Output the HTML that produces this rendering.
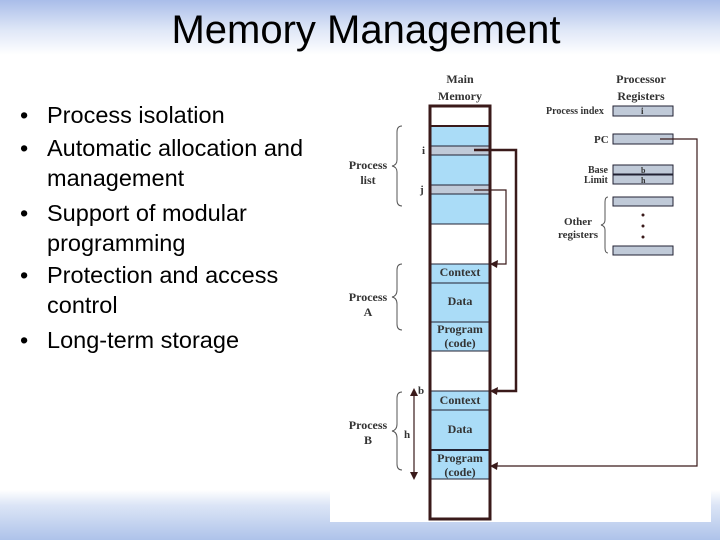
<!DOCTYPE html>
<html><head><style>
body{margin:0;width:720px;height:540px;overflow:hidden;font-family:"Liberation Sans",sans-serif;}
#bg{position:absolute;left:0;top:0;width:720px;height:540px;background:linear-gradient(to bottom,#a9bde9 0px,#dfe7f7 30px,#fff 55px,#fff 490px,#dce5f6 505px,#aec3ea 540px);}
h1{position:absolute;left:0;width:732px;top:8px;margin:0;text-align:center;font-weight:normal;font-size:40px;color:#000;}
.b{position:absolute;left:20px;font-size:23.5px;line-height:30px;color:#000;}
.b span{position:absolute;left:0}
.b div{padding-left:27px}
</style></head><body>
<div id="bg"></div>
<h1>Memory Management</h1>
<div class="b" style="top:100px"><span>•</span><div>Process isolation</div></div>
<div class="b" style="top:133px"><span>•</span><div>Automatic allocation and<br>management</div></div>
<div class="b" style="top:198px"><span>•</span><div>Support of modular<br>programming</div></div>
<div class="b" style="top:260px"><span>•</span><div>Protection and access<br>control</div></div>
<div class="b" style="top:325px"><span>•</span><div>Long-term storage</div></div>
<svg style="position:absolute;left:0;top:0" width="720" height="540" font-family="Liberation Serif,serif" font-weight="bold" fill="#233">
<rect x="330" y="60" width="381" height="462" fill="#fff"/>
<g font-size="12" text-anchor="middle" fill="#333">
<text x="460" y="83">Main</text><text x="460" y="100">Memory</text>
<text x="641" y="83">Processor</text><text x="641" y="100">Registers</text>
</g>
<g stroke="#223" stroke-width="1">
<rect x="431" y="126" width="58" height="98" fill="#aadcf7"/>
<rect x="431" y="146" width="58" height="9" fill="#c0cad8"/>
<rect x="431" y="185" width="58" height="9" fill="#c0cad8"/>
<rect x="431" y="264" width="58" height="87" fill="#aadcf7"/>
<line x1="431" y1="283" x2="489" y2="283"/><line x1="431" y1="322" x2="489" y2="322"/>
<rect x="431" y="391" width="58" height="88" fill="#aadcf7"/>
<line x1="431" y1="410" x2="489" y2="410"/><line x1="431" y1="450" x2="489" y2="450" stroke-width="2"/>
<g fill="#c0cad8">
<rect x="613" y="106" width="60" height="10"/><rect x="613" y="134" width="60" height="10"/>
<rect x="613" y="165" width="60" height="9"/><rect x="613" y="175" width="60" height="9"/>
<rect x="613" y="197" width="60" height="9"/><rect x="613" y="246" width="60" height="9"/>
</g>
</g>
<rect x="430" y="106" width="60" height="413" fill="none" stroke="#3a1a1a" stroke-width="3"/>
<line x1="431" y1="126" x2="489" y2="126" stroke="#3a1a1a" stroke-width="2"/>
<g fill="none" stroke="#3a1a1a">
<polyline points="474,150 516,150 516,391 492,391" stroke-width="2.5"/>
<polyline points="474,190 506,190 506,264 492,264" stroke-width="1.2"/>
<polyline points="660,139 697,139 697,466 492,466" stroke-width="1.2"/>
<line x1="414" y1="392" x2="414" y2="476" stroke-width="1.2"/>
</g>
<g fill="#3a1a1a">
<polygon points="490,264 498,260 497,268"/><polygon points="490,391 498,387 497,395"/><polygon points="490,466 498,462 497,470"/>
<polygon points="414,388 410,396 418,396"/><polygon points="414,480 410,472 418,472"/>
<circle cx="643" cy="215" r="1.5"/><circle cx="643" cy="226" r="1.5"/><circle cx="643" cy="237" r="1.5"/>
</g>
<g fill="none" stroke="#555" stroke-width="1">
<path d="M402,126 q-5,0 -5,6 v28 q0,5 -5,6 q5,1 5,6 v28 q0,6 5,6"/>
<path d="M402,264 q-5,0 -5,6 v20 q0,6 -5,7 q5,1 5,7 v20 q0,6 5,6"/>
<path d="M402,392 q-5,0 -5,6 v26 q0,6 -5,7 q5,1 5,7 v26 q0,6 5,6"/>
<path d="M608,197 q-3,0 -3,5 v18 q0,4 -4,5 q4,1 4,5 v18 q0,5 3,5"/>
</g>
<g font-size="12" text-anchor="middle" fill="#333">
<text x="368" y="169">Process</text><text x="368" y="184">list</text>
<text x="368" y="301">Process</text><text x="368" y="316">A</text>
<text x="368" y="429">Process</text><text x="368" y="444">B</text>
<text x="578" y="225" font-size="11">Other</text><text x="578" y="238" font-size="11">registers</text>
<text x="460" y="276">Context</text><text x="460" y="305">Data</text>
<text x="460" y="333">Program</text><text x="460" y="347">(code)</text>
<text x="460" y="404">Context</text><text x="460" y="433">Data</text>
<text x="460" y="462">Program</text><text x="460" y="476">(code)</text>
</g>
<g font-size="11" fill="#333">
<text x="422" y="154">i</text><text x="420" y="193">j</text>
<text x="418" y="394">b</text><text x="404" y="438">h</text>
<text x="546" y="114" font-size="10">Process index</text>
<text x="594" y="143">PC</text>
<text x="588" y="173" font-size="10">Base</text><text x="584" y="183" font-size="10">Limit</text>
<text x="641" y="114" font-size="9">i</text><text x="641" y="173" font-size="8">b</text><text x="641" y="183" font-size="8">h</text>
</g>
</svg>
</body></html>
